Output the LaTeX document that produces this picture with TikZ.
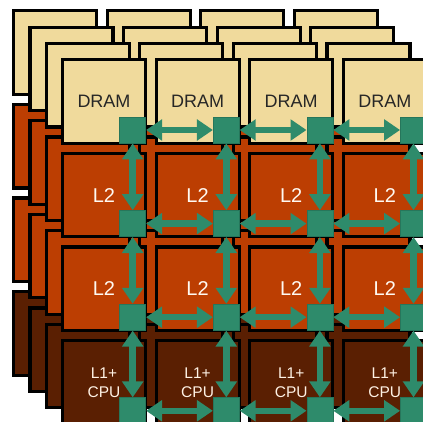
\documentclass[tikz,border=0pt]{standalone}
\usepackage{tikz}
\usepackage{xcolor}
\usepackage{fontspec}
\setmainfont{Liberation Sans}
\usetikzlibrary{arrows.meta}

\definecolor{dramfill}{HTML}{F0DA9C}
\definecolor{ltwofill}{HTML}{BC3E02}
\definecolor{cpufill}{HTML}{5A1F02}
\definecolor{routerfill}{HTML}{2E8B6B}

\begin{document}
\begin{tikzpicture}[x=1pt, y=-1pt,
    tile/.style={rectangle, draw=black, line width=3.2pt, minimum width=83pt, minimum height=83.5pt, inner sep=0pt, outer sep=0pt, align=center},
    router/.style={rectangle, draw=routerfill!85!black, line width=0.8pt, fill=routerfill, minimum size=26pt, inner sep=0pt, outer sep=0.4pt},
    link/.style={{Triangle[width=20.5pt,length=16pt]}-{Triangle[width=20.5pt,length=16pt]}, routerfill, line width=6.5pt},
    big/.style={font=\fontsize{18}{21}\selectfont},
    bigger/.style={font=\fontsize{20}{23}\selectfont},
    small/.style={font=\fontsize{15.5}{19}\selectfont}]

    \useasboundingbox (0,0) rectangle (423,422);

    % stacked layers behind the front one
    \foreach \l in {3,2,1} {
        \foreach \r/\rowfill in {0/dramfill, 1/ltwofill, 2/ltwofill, 3/cpufill} {
            \foreach \c in {0,1,2,3} {
                \node[tile, fill=\rowfill] (back\l-\r-\c) at ({104-\l*16.3+\c*93.6}, {101.5-\l*16.3+\r*93.6}) {};
            }
        }
    }

    % front layer with labels
    \foreach \c in {0,1,2,3} {
        \node[tile, fill=dramfill, big, text=black!85] (dram\c) at ({104+\c*93.6}, 101.5) {DRAM};
        \node[tile, fill=ltwofill, bigger, text=white!95!orange] (ltwoa\c) at ({104+\c*93.6}, 195.1) {L2};
        \node[tile, fill=ltwofill, bigger, text=white!95!orange] (ltwob\c) at ({104+\c*93.6}, 288.7) {L2};
        \node[tile, fill=cpufill, small, text=white!90!orange] (cpu\c) at ({104+\c*93.6}, 382.3) {L1+\\CPU};
    }

    % routers
    \foreach \r in {0,1,2,3} {
        \foreach \c in {0,1,2,3} {
            \node[router] (router\r-\c) at ({132.7+\c*93.6}, {130+\r*93.6}) {};
        }
    }

    % links
    \foreach \r in {0,1,2,3} {
        \foreach \c/\n in {0/1, 1/2, 2/3} {
            \draw[link] (router\r-\c) -- (router\r-\n);
        }
    }
    \foreach \c in {0,1,2,3} {
        \foreach \r/\n in {0/1, 1/2, 2/3} {
            \draw[link] (router\r-\c) -- (router\n-\c);
        }
    }
\end{tikzpicture}
\end{document}
